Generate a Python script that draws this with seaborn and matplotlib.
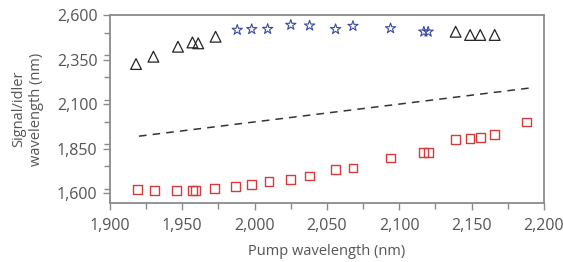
import matplotlib
matplotlib.use("Agg")
import matplotlib.pyplot as plt
import seaborn as sns
from matplotlib.ticker import MultipleLocator, FuncFormatter

# ------------------------------------------------------------
# DATA
# ------------------------------------------------------------
tri_pump = [1918, 1930, 1947, 1957, 1961, 1973, 2139, 2149, 2156, 2166]
tri_wl = [2325, 2366, 2422, 2446, 2441, 2478, 2506, 2488, 2488, 2488]

star_pump = [1988, 1998, 2009, 2025, 2038, 2056, 2068, 2094, 2117, 2120]
star_wl = [2516, 2520, 2521, 2544, 2540, 2520, 2538, 2525, 2506, 2506]

sq_pump = [1919, 1931, 1946, 1957, 1959, 1972, 1987, 1998, 2010, 2025, 2038,
           2056, 2068, 2094, 2117, 2120, 2139, 2149, 2156, 2166, 2188]
sq_wl = [1621, 1613, 1613, 1615, 1615, 1628, 1638, 1651, 1666, 1677, 1697,
         1733, 1742, 1798, 1829, 1829, 1902, 1905, 1913, 1931, 1999]

degen_pump = [1920, 2190]
degen_wl = [1920, 2190]

x_ticks = [1900, 1950, 2000, 2050, 2100, 2150, 2200]
y_ticks = [1600, 1850, 2100, 2350, 2600]

# ------------------------------------------------------------
# STYLE
# ------------------------------------------------------------
sns.set_theme(style="ticks")
plt.rcParams['font.family'] = ['Open Sans', 'DejaVu Sans']
grey = '#555555'
spine_grey = '#8a8a8a'

fig = plt.figure(figsize=(5.63, 2.62), dpi=100)
ax = fig.add_axes([0.1954, 0.2252, 0.7706, 0.7175])

sns.lineplot(x=degen_pump, y=degen_wl, ax=ax, color='#333333',
             linestyle=(0, (5, 4)), linewidth=1.1)

sns.scatterplot(x=tri_pump, y=tri_wl, ax=ax, marker='^', s=60,
                facecolors='none', edgecolor='#222222', linewidth=0.9)
sns.scatterplot(x=star_pump, y=star_wl, ax=ax, marker='*', s=60,
                facecolors='none', edgecolor='#3a4aa0', linewidth=0.8)
sns.scatterplot(x=sq_pump, y=sq_wl, ax=ax, marker='s', s=40,
                facecolors='none', edgecolor='#d63b3b', linewidth=1.0)

ax.set_xlim(1900, 2200)
ax.set_ylim(1545, 2600)
ax.set_xticks(x_ticks)
ax.set_yticks(y_ticks)
ax.xaxis.set_minor_locator(MultipleLocator(25))
ax.yaxis.set_minor_locator(MultipleLocator(125))
fmt = FuncFormatter(lambda v, p: f"{int(v):,}")
ax.xaxis.set_major_formatter(fmt)
ax.yaxis.set_major_formatter(fmt)

for side in ['top', 'right', 'bottom', 'left']:
    ax.spines[side].set_visible(True)
    ax.spines[side].set_color(spine_grey)
    ax.spines[side].set_linewidth(1.3)

ax.tick_params(which='major', direction='out', length=5, width=1,
               color=spine_grey, labelcolor=grey, labelsize=11.5)
ax.tick_params(axis='x', which='major', pad=6)
ax.tick_params(axis='y', which='major', pad=4)
ax.tick_params(which='minor', direction='out', length=4, width=1,
               color=spine_grey)

ax.set_xlabel('Pump wavelength (nm)', fontsize=10.5, color=grey, labelpad=7)
ax.set_ylabel('Signal/idler\nwavelength (nm)', fontsize=10.5, color=grey,
              labelpad=9, linespacing=1.25)

fig.savefig('out.png', dpi=100)
plt.close()
